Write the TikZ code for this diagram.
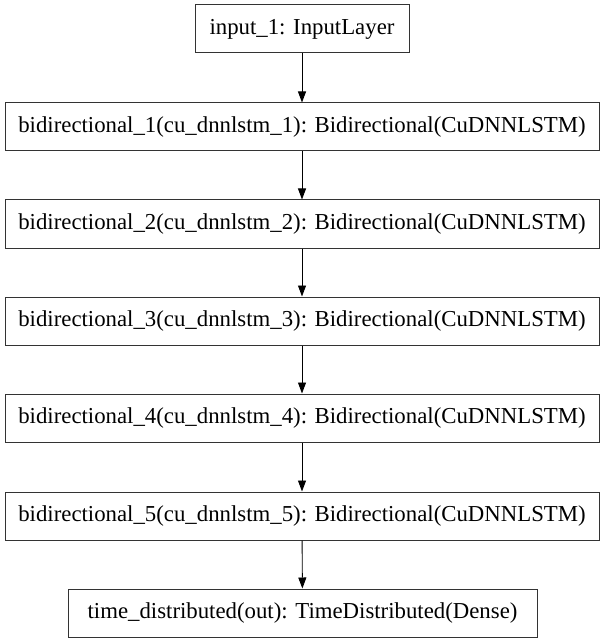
\documentclass[tikz,border=0pt]{standalone}
\usepackage{fontspec}
\setmainfont{Liberation Serif}
\usetikzlibrary{arrows.meta}
\begin{document}
\begin{tikzpicture}[x=1pt,y=-1pt,
  layer/.style={draw=black!80, line width=1pt, minimum height=48pt, inner sep=0pt, font=\fontsize{22.8}{26}\selectfont},
  conn/.style={line width=0.9pt, -{Triangle[length=11pt,width=8pt]}}]
\useasboundingbox (0,0) rectangle (605,644);
\node[layer, minimum width=214pt] (in) at (302,29) {input\_1: InputLayer};
\node[layer, minimum width=594pt] (b1) at (302,127) {bidirectional\_1(cu\_dnnlstm\_1): Bidirectional(CuDNNLSTM)};
\node[layer, minimum width=594pt] (b2) at (302,224) {bidirectional\_2(cu\_dnnlstm\_2): Bidirectional(CuDNNLSTM)};
\node[layer, minimum width=594pt] (b3) at (302,321) {bidirectional\_3(cu\_dnnlstm\_3): Bidirectional(CuDNNLSTM)};
\node[layer, minimum width=594pt] (b4) at (302,418) {bidirectional\_4(cu\_dnnlstm\_4): Bidirectional(CuDNNLSTM)};
\node[layer, minimum width=594pt] (b5) at (302,516) {bidirectional\_5(cu\_dnnlstm\_5): Bidirectional(CuDNNLSTM)};
\node[layer, minimum width=469pt] (out) at (302.5,613) {time\_distributed(out): TimeDistributed(Dense)};
\draw[conn] (in) -- (b1);
\draw[conn] (b1) -- (b2);
\draw[conn] (b2) -- (b3);
\draw[conn] (b3) -- (b4);
\draw[conn] (b4) -- (b5);
\draw[conn] (b5) -- (out);
\end{tikzpicture}
\end{document}
